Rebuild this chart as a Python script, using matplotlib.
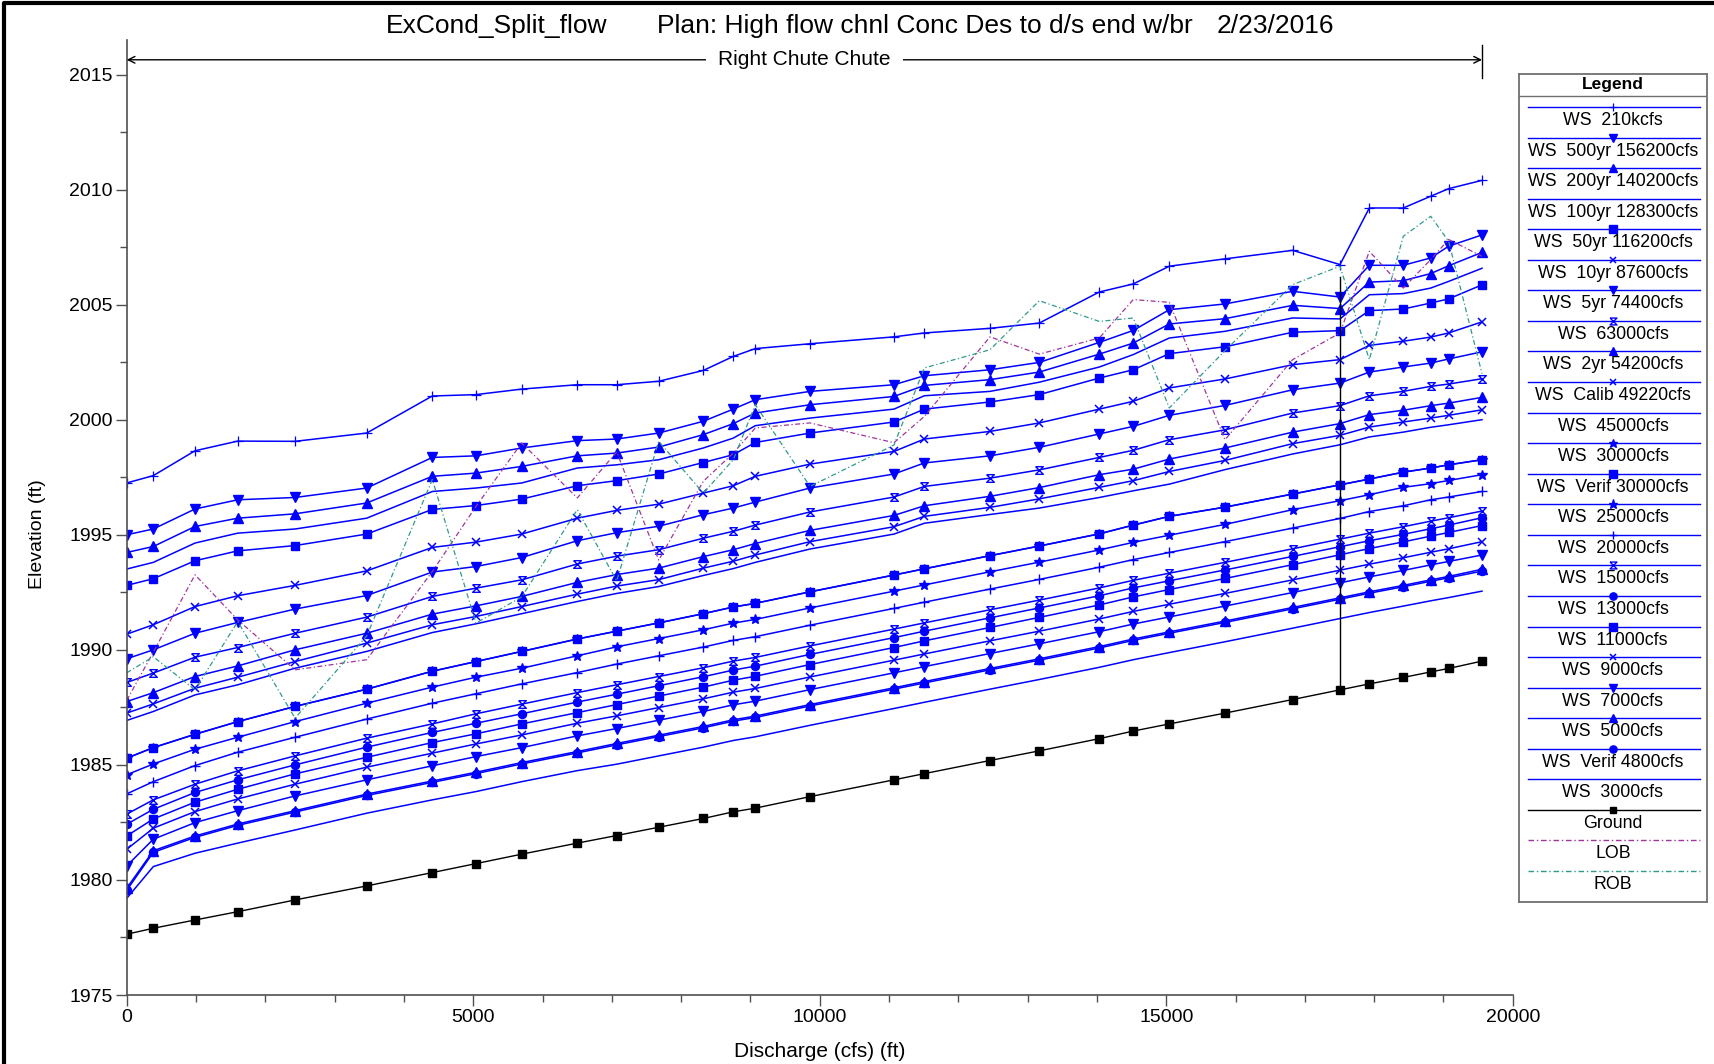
import matplotlib
matplotlib.use("Agg")
import matplotlib.pyplot as plt
from matplotlib.path import Path
from matplotlib.lines import Line2D

plt.rcParams["font.family"] = ["Liberation Sans", "DejaVu Sans"]

# --- data (x = "discharge" axis, y = elevation ft) ---
stations = [0, 384, 986, 1602, 2429, 3463, 4410, 5040, 5700, 6502, 7071, 7677, 8320, 8753, 9071, 9860,
            11072, 11510, 12457, 13169, 14035, 14525, 15045, 15848, 16825, 17508, 17931, 18421, 18817, 19076, 19557]

ws_210k = [1997.25, 1997.57, 1998.65, 1999.07, 1999.06, 1999.42, 2001.03, 2001.09, 2001.33, 2001.52, 2001.52,
           2001.67, 2002.14, 2002.75, 2003.09, 2003.3, 2003.6, 2003.77, 2003.97, 2004.2, 2005.55, 2005.9,
           2006.67, 2006.99, 2007.36, 2006.74, 2009.2, 2009.2, 2009.71, 2010.04, 2010.4]
ws_500yr = [1995.0, 1995.25, 1996.12, 1996.52, 1996.62, 1997.03, 1998.36, 1998.43, 1998.77, 1999.09, 1999.16,
            1999.42, 1999.93, 2000.46, 2000.87, 2001.23, 2001.52, 2001.91, 2002.17, 2002.49, 2003.36, 2003.88,
            2004.78, 2005.03, 2005.58, 2005.33, 2006.71, 2006.71, 2007.03, 2007.54, 2008.03]
ws_200yr = [1994.23, 1994.49, 1995.36, 1995.72, 1995.91, 1996.38, 1997.54, 1997.68, 1997.97, 1998.43, 1998.55,
            1998.81, 1999.35, 1999.83, 2000.29, 2000.65, 2001.01, 2001.49, 2001.74, 2002.07, 2002.85, 2003.33,
            2004.16, 2004.39, 2004.97, 2004.83, 2005.98, 2006.04, 2006.35, 2006.69, 2007.27]
ws_100yr = [1993.51, 1993.8, 1994.64, 1995.07, 1995.25, 1995.72, 1996.88, 1997.03, 1997.25, 1997.9, 1998.04,
            1998.26, 1998.77, 1999.2, 1999.74, 2000.07, 2000.46, 2001.04, 2001.23, 2001.63, 2002.29, 2002.83,
            2003.55, 2003.84, 2004.42, 2004.38, 2005.43, 2005.48, 2005.72, 2006.01, 2006.58]
ws_50yr = [1992.8, 1993.09, 1993.87, 1994.3, 1994.53, 1995.03, 1996.1, 1996.27, 1996.55, 1997.13, 1997.35,
           1997.64, 1998.14, 1998.48, 1999.01, 1999.42, 1999.9, 2000.46, 2000.77, 2001.09, 2001.81, 2002.17,
           2002.87, 2003.17, 2003.8, 2003.87, 2004.74, 2004.81, 2005.07, 2005.25, 2005.86]
ws_10yr = [1990.68, 1991.09, 1991.88, 1992.35, 1992.8, 1993.43, 1994.45, 1994.68, 1995.03, 1995.72, 1996.06,
           1996.33, 1996.81, 1997.13, 1997.54, 1998.07, 1998.62, 1999.16, 1999.49, 1999.86, 2000.46, 2000.8,
           2001.38, 2001.77, 2002.39, 2002.61, 2003.23, 2003.41, 2003.59, 2003.77, 2004.25]
ws_5yr = [1989.61, 1990.0, 1990.72, 1991.19, 1991.77, 1992.36, 1993.38, 1993.62, 1994.01, 1994.74, 1995.09,
          1995.37, 1995.87, 1996.16, 1996.42, 1997.03, 1997.64, 1998.12, 1998.43, 1998.8, 1999.38, 1999.71,
          2000.19, 2000.62, 2001.3, 2001.59, 2002.07, 2002.29, 2002.46, 2002.64, 2002.95]
ws_63k = [1988.58, 1988.99, 1989.68, 1990.1, 1990.72, 1991.42, 1992.32, 1992.68, 1993.04, 1993.73, 1994.07,
          1994.35, 1994.85, 1995.15, 1995.42, 1995.99, 1996.64, 1997.1, 1997.46, 1997.82, 1998.36, 1998.67,
          1999.13, 1999.56, 2000.29, 2000.61, 2001.04, 2001.23, 2001.45, 2001.55, 2001.78]
ws_2yr = [1987.75, 1988.14, 1988.84, 1989.3, 1990.0, 1990.72, 1991.55, 1991.91, 1992.32, 1992.93, 1993.27,
          1993.55, 1994.05, 1994.35, 1994.62, 1995.19, 1995.84, 1996.26, 1996.67, 1997.05, 1997.61, 1997.85,
          1998.29, 1998.77, 1999.46, 1999.83, 2000.22, 2000.41, 2000.61, 2000.72, 2000.97]
ws_calib = [1987.25, 1987.65, 1988.33, 1988.81, 1989.49, 1990.29, 1991.09, 1991.45, 1991.88, 1992.42, 1992.77,
            1993.05, 1993.55, 1993.85, 1994.12, 1994.7, 1995.35, 1995.8, 1996.19, 1996.56, 1997.06, 1997.35,
            1997.75, 1998.23, 1998.96, 1999.32, 1999.68, 1999.9, 2000.07, 2000.19, 2000.43]
ws_45k = [1986.93, 1987.32, 1988.04, 1988.48, 1989.2, 1989.93, 1990.75, 1991.13, 1991.57, 1992.1, 1992.45,
          1992.75, 1993.23, 1993.53, 1993.8, 1994.38, 1995.03, 1995.5, 1995.88, 1996.16, 1996.62, 1996.91,
          1997.2, 1997.83, 1998.51, 1998.91, 1999.25, 1999.46, 1999.67, 1999.78, 2000.0]
ws_30k = [1985.29, 1985.75, 1986.33, 1986.88, 1987.54, 1988.29, 1989.07, 1989.49, 1989.93, 1990.47, 1990.81,
          1991.17, 1991.57, 1991.86, 1992.02, 1992.52, 1993.25, 1993.52, 1994.09, 1994.51, 1995.04, 1995.42,
          1995.8, 1996.2, 1996.77, 1997.17, 1997.42, 1997.72, 1997.9, 1998.04, 1998.26]
ws_verif30k = [1985.29, 1985.75, 1986.33, 1986.88, 1987.54, 1988.29, 1989.07, 1989.49, 1989.93, 1990.47, 1990.81,
               1991.17, 1991.57, 1991.86, 1992.02, 1992.52, 1993.25, 1993.52, 1994.09, 1994.51, 1995.04, 1995.42,
               1995.8, 1996.2, 1996.77, 1997.17, 1997.42, 1997.72, 1997.9, 1998.04, 1998.26]
ws_25k = [1984.57, 1985.04, 1985.68, 1986.2, 1986.88, 1987.68, 1988.38, 1988.81, 1989.2, 1989.74, 1990.13,
          1990.49, 1990.87, 1991.16, 1991.32, 1991.82, 1992.55, 1992.82, 1993.39, 1993.81, 1994.34, 1994.67,
          1994.98, 1995.45, 1996.09, 1996.48, 1996.74, 1997.06, 1997.22, 1997.36, 1997.61]
ws_20k = [1983.74, 1984.27, 1984.97, 1985.55, 1986.2, 1986.99, 1987.68, 1988.09, 1988.52, 1989.01, 1989.38,
          1989.74, 1990.12, 1990.41, 1990.57, 1991.07, 1991.8, 1992.07, 1992.64, 1993.06, 1993.59, 1993.92,
          1994.23, 1994.7, 1995.29, 1995.71, 1996.01, 1996.26, 1996.52, 1996.64, 1996.88]
ws_15k = [1982.86, 1983.48, 1984.16, 1984.74, 1985.39, 1986.16, 1986.78, 1987.22, 1987.64, 1988.14, 1988.48,
          1988.84, 1989.22, 1989.51, 1989.67, 1990.17, 1990.9, 1991.17, 1991.74, 1992.16, 1992.69, 1993.02,
          1993.33, 1993.8, 1994.39, 1994.81, 1995.07, 1995.35, 1995.59, 1995.74, 1996.03]
ws_13k = [1982.42, 1983.07, 1983.8, 1984.35, 1985.0, 1985.77, 1986.41, 1986.81, 1987.22, 1987.73, 1988.07,
          1988.44, 1988.83, 1989.12, 1989.29, 1989.8, 1990.53, 1990.81, 1991.39, 1991.82, 1992.35, 1992.69,
          1993.0, 1993.47, 1994.06, 1994.48, 1994.74, 1995.02, 1995.26, 1995.42, 1995.74]
ws_11k = [1981.91, 1982.65, 1983.38, 1983.94, 1984.61, 1985.33, 1985.97, 1986.35, 1986.78, 1987.27, 1987.62,
          1987.99, 1988.38, 1988.68, 1988.85, 1989.36, 1990.1, 1990.39, 1990.97, 1991.41, 1991.95, 1992.3,
          1992.62, 1993.1, 1993.7, 1994.13, 1994.4, 1994.69, 1994.94, 1995.1, 1995.4]
ws_9k = [1981.33, 1982.25, 1982.97, 1983.52, 1984.16, 1984.9, 1985.51, 1985.91, 1986.3, 1986.81, 1987.13,
         1987.49, 1987.87, 1988.16, 1988.32, 1988.82, 1989.55, 1989.82, 1990.39, 1990.81, 1991.34, 1991.67,
         1991.98, 1992.45, 1993.04, 1993.46, 1993.72, 1994.0, 1994.24, 1994.39, 1994.7]
ws_7k = [1980.61, 1981.77, 1982.49, 1983.01, 1983.65, 1984.35, 1984.96, 1985.36, 1985.75, 1986.26, 1986.58,
         1986.94, 1987.32, 1987.61, 1987.77, 1988.27, 1989.0, 1989.27, 1989.84, 1990.26, 1990.79, 1991.12,
         1991.43, 1991.9, 1992.49, 1992.91, 1993.17, 1993.45, 1993.69, 1993.84, 1994.12]
ws_5k = [1979.64, 1981.27, 1981.91, 1982.43, 1983.01, 1983.73, 1984.3, 1984.68, 1985.1, 1985.58, 1985.93,
         1986.29, 1986.67, 1986.96, 1987.12, 1987.62, 1988.35, 1988.62, 1989.19, 1989.61, 1990.14, 1990.47,
         1990.78, 1991.25, 1991.84, 1992.26, 1992.52, 1992.8, 1993.04, 1993.19, 1993.5]
ws_verif4800 = [1979.55, 1981.2, 1981.85, 1982.37, 1982.95, 1983.67, 1984.24, 1984.62, 1985.04, 1985.52, 1985.87,
                1986.23, 1986.61, 1986.9, 1987.06, 1987.56, 1988.29, 1988.56, 1989.13, 1989.55, 1990.08, 1990.41,
                1990.72, 1991.19, 1991.78, 1992.2, 1992.46, 1992.74, 1992.98, 1993.13, 1993.42]
ws_3k = [1979.2, 1980.58, 1981.16, 1981.6, 1982.17, 1982.9, 1983.48, 1983.84, 1984.27, 1984.75, 1985.03,
         1985.39, 1985.77, 1986.06, 1986.22, 1986.72, 1987.45, 1987.72, 1988.29, 1988.71, 1989.24, 1989.57,
         1989.88, 1990.35, 1990.94, 1991.36, 1991.62, 1991.9, 1992.13, 1992.27, 1992.55]
ground = [1977.64, 1977.90, 1978.26, 1978.62, 1979.13, 1979.74, 1980.32, 1980.71, 1981.12, 1981.60, 1981.93,
          1982.29, 1982.67, 1982.96, 1983.12, 1983.62, 1984.35, 1984.62, 1985.19, 1985.61, 1986.14, 1986.47,
          1986.78, 1987.25, 1987.84, 1988.26, 1988.52, 1988.80, 1989.04, 1989.19, 1989.51]
lob = [1987.8, 1989.9, 1993.26, 1991.3, 1989.13, 1989.57, 1993.4, 1996.23, 1998.99, 1996.6, 1998.6,
       1993.9, 1997.32, 1998.55, 1999.64, 1999.86, 1999.0, 2000.14, 2003.6, 2002.85, 2003.55, 2005.22,
       2005.1, 1999.13, 2002.61, 2003.77, 2007.32, 2005.72, 2006.96, 2007.83, 2007.1]
rob = [1989.0, 1989.7, 1988.26, 1991.23, 1987.03, 1990.6, 1997.4, 1991.16, 1992.3, 1996.09, 1993.0,
       1999.06, 1996.81, 1998.26, 2000.65, 1997.1, 1998.9, 2002.25, 2003.04, 2005.17, 2004.27, 2004.42,
       2000.51, 2003.0, 2005.87, 2006.67, 2002.61, 2007.97, 2008.84, 2007.75, 2002.0]

# bridge / junction marker
junction_station = 17508
junction_top = 2006.2

labels = ["WS  210kcfs", "WS  500yr 156200cfs", "WS  200yr 140200cfs", "WS  100yr 128300cfs",
          "WS  50yr 116200cfs", "WS  10yr 87600cfs", "WS  5yr 74400cfs", "WS  63000cfs",
          "WS  2yr 54200cfs", "WS  Calib 49220cfs", "WS  45000cfs", "WS  30000cfs",
          "WS  Verif 30000cfs", "WS  25000cfs", "WS  20000cfs", "WS  15000cfs", "WS  13000cfs",
          "WS  11000cfs", "WS  9000cfs", "WS  7000cfs", "WS  5000cfs", "WS  Verif 4800cfs",
          "WS  3000cfs", "Ground", "LOB", "ROB"]

# hourglass marker (x with top and bottom bar)
hourglass = Path([(-1, 1), (1, 1), (-1, -1), (1, -1), (-1, 1)],
                 [Path.MOVETO, Path.LINETO, Path.LINETO, Path.LINETO, Path.LINETO])

BLUE = "#0000ff"
LOB_C = "#a0349c"
ROB_C = "#2e9a8c"

# style per legend entry: (values, marker, markersize, extra kwargs)
styles = [
    (ws_210k, "+", 7, dict(mew=0.9)),
    (ws_500yr, "v", 7, {}),
    (ws_200yr, "^", 7, {}),
    (ws_100yr, None, 0, {}),
    (ws_50yr, "s", 5.8, {}),
    (ws_10yr, "x", 5.5, dict(mew=1.1)),
    (ws_5yr, "v", 7, {}),
    (ws_63k, hourglass, 5.5, dict(mew=1.0, mfc="none")),
    (ws_2yr, "^", 7, {}),
    (ws_calib, "x", 5.5, dict(mew=1.1)),
    (ws_45k, None, 0, {}),
    (ws_30k, "*", 7, {}),
    (ws_verif30k, "s", 5.8, {}),
    (ws_25k, "*", 7.5, {}),
    (ws_20k, "+", 7, dict(mew=1.0)),
    (ws_15k, hourglass, 5.5, dict(mew=1.0, mfc="none")),
    (ws_13k, "o", 5.8, {}),
    (ws_11k, "s", 5.8, {}),
    (ws_9k, "x", 5.5, dict(mew=1.1)),
    (ws_7k, "v", 7, {}),
    (ws_5k, "^", 7, {}),
    (ws_verif4800, "o", 5.8, {}),
    (ws_3k, None, 0, {}),
]

fig = plt.figure(figsize=(17.14, 10.64), dpi=100)
W, H = 1714.0, 1064.0
ax = fig.add_axes([126.7 / W, 1 - 995 / H, 1386 / W, 955 / H])

for vals, mk, ms, kw in styles:
    kw = dict(kw)
    ax.plot(stations, vals, color=BLUE, lw=1.1, marker=mk, ms=ms, mec=BLUE,
            mfc=kw.pop("mfc", BLUE), **kw)
ax.plot(stations, ground, color="black", lw=1.0, marker="s", ms=5.8)
ax.plot(stations, lob, color=LOB_C, lw=0.9, ls=(0, (4, 2, 1, 2)))
ax.plot(stations, rob, color=ROB_C, lw=0.9, ls=(0, (4, 2, 1, 2)))
ax.plot([junction_station, junction_station], [ground[25], junction_top], color="black", lw=1.0)

ax.set_xlim(0, 20000)
ax.set_ylim(1975, 2016.5)
ax.set_xticks(range(0, 20001, 5000))
ax.set_xticks(range(0, 20001, 1000), minor=True)
ax.set_yticks(range(1975, 2016, 5))
ax.set_yticks([1975 + 2.5 * i for i in range(17)], minor=True)
ax.tick_params(which="major", length=8, width=1, color="#505050", labelsize=14, pad=2)
ax.tick_params(which="minor", length=5, width=1, color="#505050")
for s in ["top", "right"]:
    ax.spines[s].set_visible(False)
for s in ["left", "bottom"]:
    ax.spines[s].set_color("#505050")
    ax.spines[s].set_linewidth(1.2)

ax.set_xlabel("Discharge (cfs) (ft)", fontsize=15)
ax.set_ylabel("Elevation (ft)", fontsize=14)
ax.xaxis.set_label_coords(0.5, -0.0497)
ax.yaxis.set_label_coords(-0.058, 0.4827)

# reach arrow across the top
y_arr = 2015.64
ax.annotate("", xy=(0, y_arr), xytext=(stations[-1], y_arr),
            arrowprops=dict(arrowstyle="<->", lw=1.0, color="black", shrinkA=0, shrinkB=0,
                            mutation_scale=12))
ax.plot([stations[-1], stations[-1]], [2014.85, 2016.3], color="black", lw=1.0, clip_on=False)
ax.text(stations[-1] / 2, y_arr, "Right Chute Chute", ha="center", va="center", fontsize=15,
        bbox=dict(boxstyle="square,pad=0.6", fc="white", ec="none"))

# title in three parts
ty = 1 - 26 / H
fig.text(386 / W, ty, "ExCond_Split_flow", fontsize=19, ha="left", va="center")
fig.text(657 / W, ty, "Plan: High flow chnl Conc Des to d/s end w/br", fontsize=19, ha="left", va="center")
fig.text(1217 / W, ty, "2/23/2016", fontsize=19, ha="left", va="center")

# outer frame (left and top edges)
fig.add_artist(Line2D([4 / W, 4 / W, 1], [0, 1 - 3 / H, 1 - 3 / H], color="black", lw=3))

# --- legend box drawn by hand ---
bx0, bx1, by0, by1 = 1519, 1707, 74, 902
lg = fig.add_axes([bx0 / W, 1 - by1 / H, (bx1 - bx0) / W, (by1 - by0) / H])
lg.set_xlim(0, bx1 - bx0)
lg.set_ylim(by1 - by0, 0)
lg.set_xticks([])
lg.set_yticks([])
for s in lg.spines.values():
    s.set_color("#707070")
    s.set_linewidth(1.3)
lg.text(94, 11, "Legend", ha="center", va="center", fontsize=12.5, fontweight="bold")
lg.plot([0, bx1 - bx0], [22, 22], color="#707070", lw=1.0)

entries = [(vals, mk, ms, kw, BLUE, "-") for vals, mk, ms, kw in styles]
entries += [(ground, "s", 5.5, {}, "black", "-"), (lob, None, 0, {}, LOB_C, (0, (4, 2, 1, 2))),
            (rob, None, 0, {}, ROB_C, (0, (4, 2, 1, 2)))]
for k, (lab, ent) in enumerate(zip(labels, entries)):
    _, mk, ms, kw, col, ls = ent
    yl = 33 + k * 30.56
    lg.plot([9, 181], [yl, yl], color=col, lw=1.0, ls=ls)
    if mk is not None:
        fc = "none" if mk is hourglass else col
        lg.plot([94], [yl], marker=mk, ms=ms * 0.9, color=col, mfc=fc, mec=col,
                mew=kw.get("mew", 1.0), ls="none")
    lg.text(94, yl + 13.5, lab, ha="center", va="center", fontsize=12.8)

fig.savefig("out.png", dpi=100)
